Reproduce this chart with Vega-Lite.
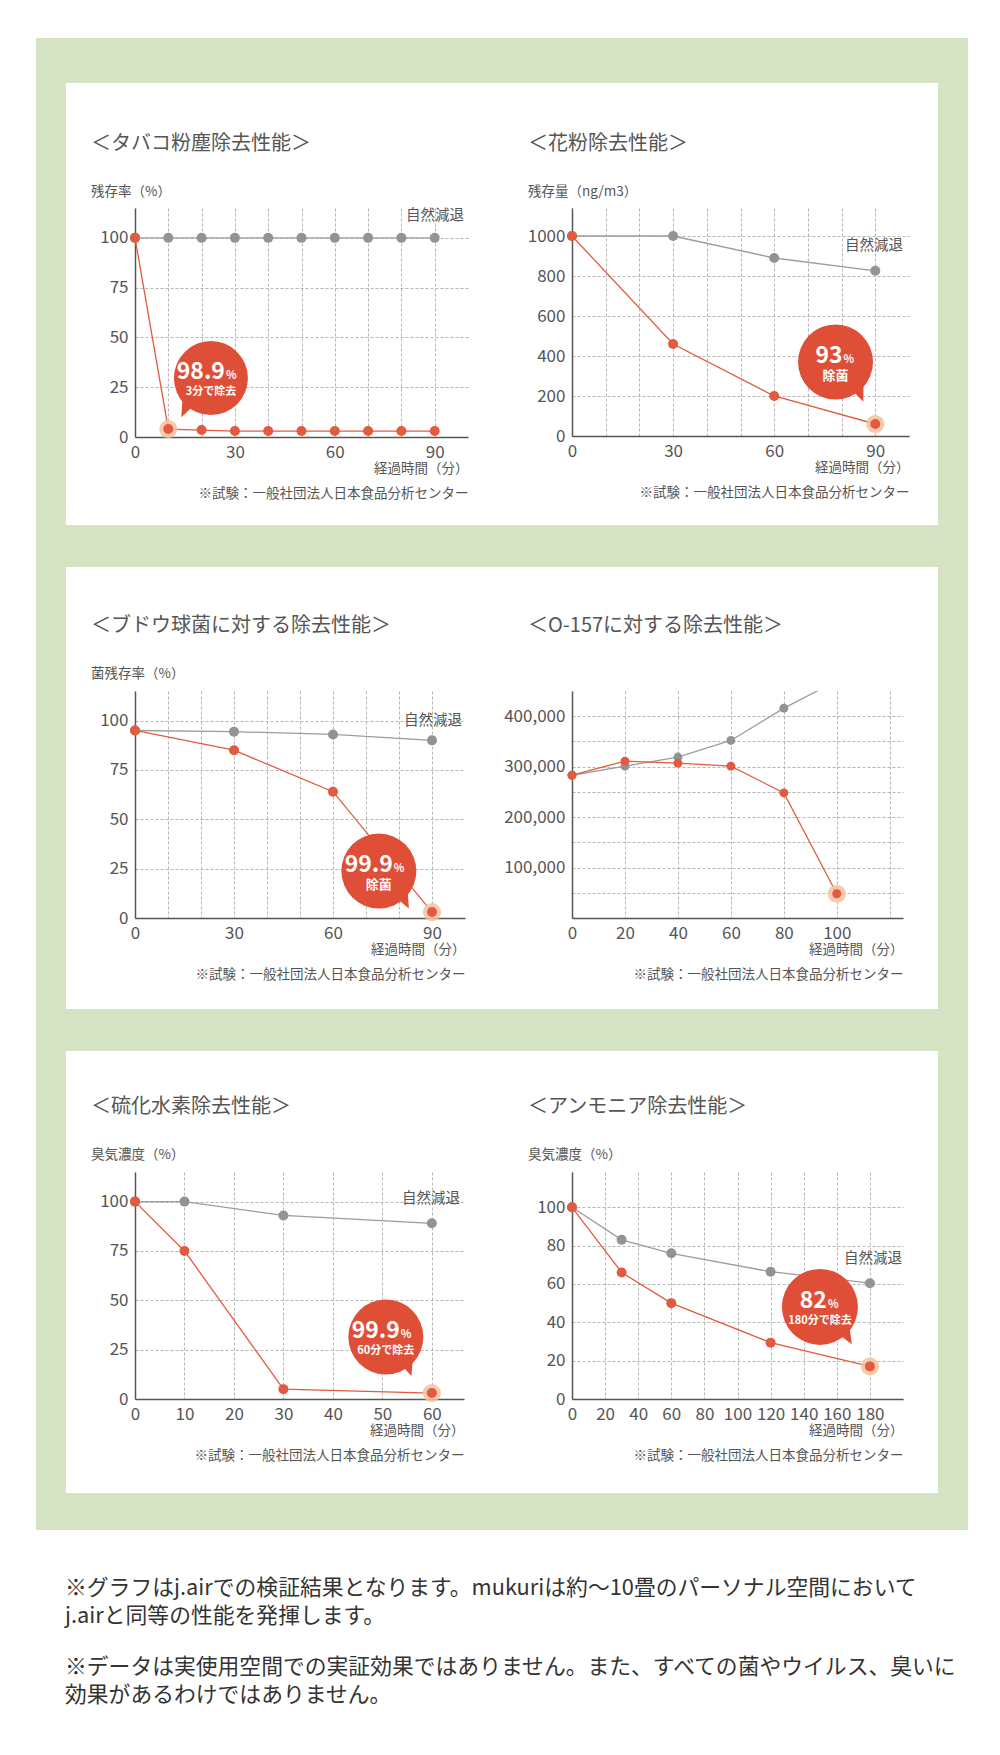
{
  "$schema": "https://vega.github.io/schema/vega-lite/v6.json",
  "background": "white",
  "autosize": {"type": "pad"},
  "padding": {"left": 35, "top": 37, "right": 33, "bottom": 41},
  "title": {
    "text": ["※グラフはj.airでの検証結果となります。mukuriは約〜10畳のパーソナル空間において", "j.airと同等の性能を発揮します。"],
    "subtitle": ["※データは実使用空間での実証効果ではありません。また、すべての菌やウイルス、臭いに", "効果があるわけではありません。"],
    "orient": "bottom", "anchor": "start", "frame": "bounds", "baseline": "top",
    "dx": 29, "offset": 48, "fontSize": 21.8, "fontWeight": "normal", "color": "#333", "lineHeight": 28,
    "subtitleFontSize": 21.8, "subtitleFontWeight": "normal", "subtitleColor": "#333", "subtitleLineHeight": 28, "subtitlePadding": 29
  },
  "datasets": {
    "c1": [
      {"t": 0, "v": 100, "series": "自然減退"}, {"t": 10, "v": 100, "series": "自然減退"}, {"t": 20, "v": 100, "series": "自然減退"}, {"t": 30, "v": 100, "series": "自然減退"}, {"t": 40, "v": 100, "series": "自然減退"}, {"t": 50, "v": 100, "series": "自然減退"}, {"t": 60, "v": 100, "series": "自然減退"}, {"t": 70, "v": 100, "series": "自然減退"}, {"t": 80, "v": 100, "series": "自然減退"}, {"t": 90, "v": 100, "series": "自然減退"},
      {"t": 0, "v": 100, "series": "除去"}, {"t": 10, "v": 4, "series": "除去"}, {"t": 20, "v": 3.5, "series": "除去"}, {"t": 30, "v": 3, "series": "除去"}, {"t": 40, "v": 3, "series": "除去"}, {"t": 50, "v": 3, "series": "除去"}, {"t": 60, "v": 3, "series": "除去"}, {"t": 70, "v": 3, "series": "除去"}, {"t": 80, "v": 3, "series": "除去"}, {"t": 90, "v": 3, "series": "除去"}
    ],
    "c2": [
      {"t": 0, "v": 1000, "series": "自然減退"}, {"t": 30, "v": 1000, "series": "自然減退"}, {"t": 60, "v": 890, "series": "自然減退"}, {"t": 90, "v": 826, "series": "自然減退"},
      {"t": 0, "v": 1000, "series": "除去"}, {"t": 30, "v": 460, "series": "除去"}, {"t": 60, "v": 200, "series": "除去"}, {"t": 90, "v": 60, "series": "除去"}
    ],
    "c3": [
      {"t": 0, "v": 95, "series": "自然減退"}, {"t": 30, "v": 94.4, "series": "自然減退"}, {"t": 60, "v": 93, "series": "自然減退"}, {"t": 90, "v": 90, "series": "自然減退"},
      {"t": 0, "v": 95, "series": "除去"}, {"t": 30, "v": 85, "series": "除去"}, {"t": 60, "v": 64, "series": "除去"}, {"t": 90, "v": 3, "series": "除去"}
    ],
    "c4": [
      {"t": 0, "v": 283000, "series": "自然減退"}, {"t": 20, "v": 301000, "series": "自然減退"}, {"t": 40, "v": 319000, "series": "自然減退"}, {"t": 60, "v": 352000, "series": "自然減退"}, {"t": 80, "v": 416000, "series": "自然減退"}, {"t": 100, "v": 470000, "series": "自然減退"},
      {"t": 0, "v": 283000, "series": "除去"}, {"t": 20, "v": 311000, "series": "除去"}, {"t": 40, "v": 307000, "series": "除去"}, {"t": 60, "v": 301000, "series": "除去"}, {"t": 80, "v": 248000, "series": "除去"}, {"t": 100, "v": 48000, "series": "除去"}
    ],
    "c5": [
      {"t": 0, "v": 100, "series": "自然減退"}, {"t": 10, "v": 100, "series": "自然減退"}, {"t": 30, "v": 93, "series": "自然減退"}, {"t": 60, "v": 89, "series": "自然減退"},
      {"t": 0, "v": 100, "series": "除去"}, {"t": 10, "v": 75, "series": "除去"}, {"t": 30, "v": 5, "series": "除去"}, {"t": 60, "v": 3, "series": "除去"}
    ],
    "c6": [
      {"t": 0, "v": 100, "series": "自然減退"}, {"t": 30, "v": 83, "series": "自然減退"}, {"t": 60, "v": 76, "series": "自然減退"}, {"t": 120, "v": 66.4, "series": "自然減退"}, {"t": 180, "v": 60.4, "series": "自然減退"},
      {"t": 0, "v": 100, "series": "除去"}, {"t": 30, "v": 66, "series": "除去"}, {"t": 60, "v": 50, "series": "除去"}, {"t": 120, "v": 29.4, "series": "除去"}, {"t": 180, "v": 17, "series": "除去"}
    ]
  },
  "concat": [
    {
      "width": 333, "height": 229,
      "title": {"text": "＜タバコ粉塵除去性能＞", "subtitle": "残存率（%）", "offset": -160},
      "layer": [
        {"data": {"name": "c1"}, "mark": {"type": "line", "strokeWidth": 1.3},
         "encoding": {
           "x": {"field": "t", "type": "quantitative", "scale": {"domain": [0, 100], "nice": false, "zero": false}, "axis": {"grid": true, "tickCount": 50, "values": [0, 10, 20, 30, 40, 50, 60, 70, 80, 90], "labelExpr": "datum.value % 30 === 0 ? datum.label : ''", "title": ["経過時間（分）", "※試験：一般社団法人日本食品分析センター"]}},
           "y": {"field": "v", "type": "quantitative", "scale": {"domain": [0, 115], "nice": false}, "axis": {"grid": true, "tickCount": 50, "values": [0, 25, 50, 75, 100], "title": null}},
           "stroke": {"field": "series", "type": "nominal", "scale": {"domain": ["自然減退", "除去"], "range": ["#9c9c9c", "#e25a3f"]}, "legend": null}}},
        {"data": {"values": [{}]}, "mark": {"type": "rect", "color": "#d6e3c3", "clip": false}, "encoding": {"x": {"datum": -29.73, "type": "quantitative"}, "x2": {"datum": -20.72}, "y": {"datum": 200.37, "type": "quantitative"}, "y2": {"datum": -56.24}}},
        {"data": {"values": [{}]}, "mark": {"type": "rect", "color": "#d6e3c3", "clip": false}, "encoding": {"x": {"datum": -29.73, "type": "quantitative"}, "x2": {"datum": 111.11}, "y": {"datum": 200.37, "type": "quantitative"}, "y2": {"datum": 177.77}}},
        {"data": {"values": [{}]}, "mark": {"type": "rect", "color": "#d6e3c3", "clip": false}, "encoding": {"x": {"datum": -29.73, "type": "quantitative"}, "x2": {"datum": 111.11}, "y": {"datum": -44.19, "type": "quantitative"}, "y2": {"datum": -56.24}}},
        {"data": {"name": "c1"}, "transform": [{"filter": "datum.t == 10 && datum.series == '除去'"}], "mark": {"type": "point", "filled": true, "size": 330, "color": "#f3c2a0", "opacity": 0.85}, "encoding": {"x": {"field": "t", "type": "quantitative"}, "y": {"field": "v", "type": "quantitative"}}},
        {"data": {"name": "c1"}, "mark": {"type": "point", "filled": true, "size": 100, "opacity": 1}, "encoding": {"x": {"field": "t", "type": "quantitative"}, "y": {"field": "v", "type": "quantitative"}, "fill": {"field": "series", "type": "nominal", "scale": {"domain": ["自然減退", "除去"], "range": ["#8f9692", "#e25a3f"]}, "legend": null}}},
        {"data": {"values": [{}]},
         "encoding": {"x": {"datum": 22.8, "type": "quantitative"}, "y": {"datum": 29.6, "type": "quantitative"}},
         "layer": [
           {"mark": {"type": "point", "shape": "M-0.2,0.5L-0.8,1.06L-0.75,0.3Z", "filled": true, "size": 5476, "color": "#df4e36", "opacity": 1, "clip": false}},
           {"mark": {"type": "point", "shape": "circle", "filled": true, "size": 5476, "color": "#df4e36", "opacity": 1, "clip": false}},
           {"mark": {"type": "text", "align": "right", "baseline": "middle", "dx": 14, "dy": -6, "fontSize": 23, "fontWeight": "bold", "color": "white"}, "encoding": {"text": {"value": "98.9"}}},
           {"mark": {"type": "text", "align": "left", "baseline": "middle", "dx": 15, "dy": -2, "fontSize": 11, "fontWeight": "bold", "color": "white"}, "encoding": {"text": {"value": "%"}}},
           {"mark": {"type": "text", "align": "center", "baseline": "middle", "dy": 14, "fontSize": 11, "fontWeight": "bold", "color": "white"}, "encoding": {"text": {"value": "3分で除去"}}}
         ]},
        {"data": {"values": [{}]}, "mark": {"type": "text", "align": "right", "baseline": "middle", "fontSize": 14.5, "color": "#555"}, "encoding": {"x": {"datum": 98.8, "type": "quantitative"}, "y": {"datum": 111, "type": "quantitative"}, "text": {"value": "自然減退"}}}
      ]
    },
    {
      "width": 337, "height": 228,
      "title": {"text": "＜花粉除去性能＞", "subtitle": "残存量（ng/m3）", "offset": -160},
      "layer": [
        {"data": {"name": "c2"}, "mark": {"type": "line", "strokeWidth": 1.3},
         "encoding": {
           "x": {"field": "t", "type": "quantitative", "scale": {"domain": [0, 100], "nice": false, "zero": false}, "axis": {"grid": true, "tickCount": 50, "values": [0, 10, 20, 30, 40, 50, 60, 70, 80, 90], "labelExpr": "datum.value % 30 === 0 ? datum.label : ''", "title": ["経過時間（分）", "※試験：一般社団法人日本食品分析センター"]}},
           "y": {"field": "v", "type": "quantitative", "scale": {"domain": [0, 1140], "nice": false}, "axis": {"grid": true, "tickCount": 50, "format": "d", "values": [0, 200, 400, 600, 800, 1000], "title": null}},
           "stroke": {"field": "series", "type": "nominal", "scale": {"domain": ["自然減退", "除去"], "range": ["#9c9c9c", "#e25a3f"]}, "legend": null}}},
        {"data": {"values": [{}]}, "mark": {"type": "rect", "color": "#d6e3c3", "clip": false}, "encoding": {"x": {"datum": -21.66, "type": "quantitative"}, "x2": {"datum": 117.51}, "y": {"datum": 1990, "type": "quantitative"}, "y2": {"datum": 1765}}},
        {"data": {"values": [{}]}, "mark": {"type": "rect", "color": "#d6e3c3", "clip": false}, "encoding": {"x": {"datum": 108.61, "type": "quantitative"}, "x2": {"datum": 117.51}, "y": {"datum": 1990, "type": "quantitative"}, "y2": {"datum": -565}}},
        {"data": {"values": [{}]}, "mark": {"type": "rect", "color": "#d6e3c3", "clip": false}, "encoding": {"x": {"datum": -21.66, "type": "quantitative"}, "x2": {"datum": 117.51}, "y": {"datum": -445, "type": "quantitative"}, "y2": {"datum": -565}}},
        {"data": {"name": "c2"}, "transform": [{"filter": "datum.t == 90 && datum.series == '除去'"}], "mark": {"type": "point", "filled": true, "size": 330, "color": "#f3c2a0", "opacity": 0.85}, "encoding": {"x": {"field": "t", "type": "quantitative"}, "y": {"field": "v", "type": "quantitative"}}},
        {"data": {"name": "c2"}, "mark": {"type": "point", "filled": true, "size": 100, "opacity": 1}, "encoding": {"x": {"field": "t", "type": "quantitative"}, "y": {"field": "v", "type": "quantitative"}, "fill": {"field": "series", "type": "nominal", "scale": {"domain": ["自然減退", "除去"], "range": ["#8f9692", "#e25a3f"]}, "legend": null}}},
        {"data": {"values": [{}]},
         "encoding": {"x": {"datum": 78.2, "type": "quantitative"}, "y": {"datum": 370, "type": "quantitative"}},
         "layer": [
           {"mark": {"type": "point", "shape": "M0.2,0.5L0.74,1.06L0.75,0.3Z", "filled": true, "size": 5625, "color": "#df4e36", "opacity": 1, "clip": false}},
           {"mark": {"type": "point", "shape": "circle", "filled": true, "size": 5625, "color": "#df4e36", "opacity": 1, "clip": false}},
           {"mark": {"type": "text", "align": "right", "baseline": "middle", "dx": 7, "dy": -6, "fontSize": 23, "fontWeight": "bold", "color": "white"}, "encoding": {"text": {"value": "93"}}},
           {"mark": {"type": "text", "align": "left", "baseline": "middle", "dx": 8, "dy": -2, "fontSize": 11, "fontWeight": "bold", "color": "white"}, "encoding": {"text": {"value": "%"}}},
           {"mark": {"type": "text", "align": "center", "baseline": "middle", "dy": 14, "fontSize": 13, "fontWeight": "bold", "color": "white"}, "encoding": {"text": {"value": "除菌"}}}
         ]},
        {"data": {"values": [{}]}, "mark": {"type": "text", "align": "right", "baseline": "middle", "fontSize": 14.5, "color": "#555"}, "encoding": {"x": {"datum": 98.2, "type": "quantitative"}, "y": {"datum": 950, "type": "quantitative"}, "text": {"value": "自然減退"}}}
      ]
    },
    {
      "width": 330, "height": 227,
      "title": {"text": "＜ブドウ球菌に対する除去性能＞", "subtitle": "菌残存率（%）", "offset": -138},
      "layer": [
        {"data": {"name": "c3"}, "mark": {"type": "line", "strokeWidth": 1.3},
         "encoding": {
           "x": {"field": "t", "type": "quantitative", "scale": {"domain": [0, 100], "nice": false, "zero": false}, "axis": {"grid": true, "tickCount": 50, "values": [0, 10, 20, 30, 40, 50, 60, 70, 80, 90], "labelExpr": "datum.value % 30 === 0 ? datum.label : ''", "title": ["経過時間（分）", "※試験：一般社団法人日本食品分析センター"]}},
           "y": {"field": "v", "type": "quantitative", "scale": {"domain": [0, 115], "nice": false}, "axis": {"grid": true, "tickCount": 50, "values": [0, 25, 50, 75, 100], "title": null}},
           "stroke": {"field": "series", "type": "nominal", "scale": {"domain": ["自然減退", "除去"], "range": ["#9c9c9c", "#e25a3f"]}, "legend": null}}},
        {"data": {"values": [{}]}, "mark": {"type": "rect", "color": "#d6e3c3", "clip": false}, "encoding": {"x": {"datum": -30.0, "type": "quantitative"}, "x2": {"datum": -20.91}, "y": {"datum": 189.98, "type": "quantitative"}, "y2": {"datum": -58.26}}},
        {"data": {"values": [{}]}, "mark": {"type": "rect", "color": "#d6e3c3", "clip": false}, "encoding": {"x": {"datum": -30.0, "type": "quantitative"}, "x2": {"datum": 112.12}, "y": {"datum": 189.98, "type": "quantitative"}, "y2": {"datum": 177.82}}},
        {"data": {"values": [{}]}, "mark": {"type": "rect", "color": "#d6e3c3", "clip": false}, "encoding": {"x": {"datum": -30.0, "type": "quantitative"}, "x2": {"datum": 112.12}, "y": {"datum": -46.10, "type": "quantitative"}, "y2": {"datum": -58.26}}},
        {"data": {"name": "c3"}, "transform": [{"filter": "datum.t == 90 && datum.series == '除去'"}], "mark": {"type": "point", "filled": true, "size": 330, "color": "#f3c2a0", "opacity": 0.85}, "encoding": {"x": {"field": "t", "type": "quantitative"}, "y": {"field": "v", "type": "quantitative"}}},
        {"data": {"name": "c3"}, "mark": {"type": "point", "filled": true, "size": 100, "opacity": 1}, "encoding": {"x": {"field": "t", "type": "quantitative"}, "y": {"field": "v", "type": "quantitative"}, "fill": {"field": "series", "type": "nominal", "scale": {"domain": ["自然減退", "除去"], "range": ["#8f9692", "#e25a3f"]}, "legend": null}}},
        {"data": {"values": [{}]},
         "encoding": {"x": {"datum": 73.9, "type": "quantitative"}, "y": {"datum": 23.8, "type": "quantitative"}},
         "layer": [
           {"mark": {"type": "point", "shape": "M0.2,0.5L0.8,1.0L0.75,0.3Z", "filled": true, "size": 5625, "color": "#df4e36", "opacity": 1, "clip": false}},
           {"mark": {"type": "point", "shape": "circle", "filled": true, "size": 5625, "color": "#df4e36", "opacity": 1, "clip": false}},
           {"mark": {"type": "text", "align": "right", "baseline": "middle", "dx": 14, "dy": -6, "fontSize": 23, "fontWeight": "bold", "color": "white"}, "encoding": {"text": {"value": "99.9"}}},
           {"mark": {"type": "text", "align": "left", "baseline": "middle", "dx": 15, "dy": -2, "fontSize": 11, "fontWeight": "bold", "color": "white"}, "encoding": {"text": {"value": "%"}}},
           {"mark": {"type": "text", "align": "center", "baseline": "middle", "dy": 14, "fontSize": 13, "fontWeight": "bold", "color": "white"}, "encoding": {"text": {"value": "除菌"}}}
         ]},
        {"data": {"values": [{}]}, "mark": {"type": "text", "align": "right", "baseline": "middle", "fontSize": 14.5, "color": "#555"}, "encoding": {"x": {"datum": 99.1, "type": "quantitative"}, "y": {"datum": 99.8, "type": "quantitative"}, "text": {"value": "自然減退"}}}
      ]
    },
    {
      "width": 331, "height": 227,
      "title": {"text": "＜O-157に対する除去性能＞", "subtitle": " ", "offset": -138},
      "layer": [
        {"data": {"name": "c4"}, "mark": {"type": "line", "strokeWidth": 1.3, "clip": true},
         "encoding": {
           "x": {"field": "t", "type": "quantitative", "scale": {"domain": [0, 125], "nice": false, "zero": false}, "axis": {"grid": true, "tickCount": 50, "values": [0, 20, 40, 60, 80, 100, 120], "labelExpr": "datum.value <= 100 ? datum.label : ''", "title": ["経過時間（分）", "※試験：一般社団法人日本食品分析センター"]}},
           "y": {"field": "v", "type": "quantitative", "scale": {"domain": [0, 450000], "nice": false}, "axis": {"grid": true, "tickCount": 50, "values": [50000, 100000, 150000, 200000, 250000, 300000, 350000, 400000], "format": ",d", "labelExpr": "datum.value % 100000 === 0 ? datum.label : ''", "title": null}},
           "stroke": {"field": "series", "type": "nominal", "scale": {"domain": ["自然減退", "除去"], "range": ["#b4b4b4", "#e25a3f"]}, "legend": null}}},
        {"data": {"values": [{}]}, "mark": {"type": "rect", "color": "#d6e3c3", "clip": false}, "encoding": {"x": {"datum": -27.57, "type": "quantitative"}, "x2": {"datum": 149.55}, "y": {"datum": 743393, "type": "quantitative"}, "y2": {"datum": 695815}}},
        {"data": {"values": [{}]}, "mark": {"type": "rect", "color": "#d6e3c3", "clip": false}, "encoding": {"x": {"datum": 138.22, "type": "quantitative"}, "x2": {"datum": 149.55}, "y": {"datum": 743393, "type": "quantitative"}, "y2": {"datum": -227974}}},
        {"data": {"values": [{}]}, "mark": {"type": "rect", "color": "#d6e3c3", "clip": false}, "encoding": {"x": {"datum": -27.57, "type": "quantitative"}, "x2": {"datum": 149.55}, "y": {"datum": -180397, "type": "quantitative"}, "y2": {"datum": -227974}}},
        {"data": {"name": "c4"}, "transform": [{"filter": "datum.t == 100 && datum.series == '除去'"}], "mark": {"type": "point", "filled": true, "size": 330, "color": "#f3c2a0", "opacity": 0.85}, "encoding": {"x": {"field": "t", "type": "quantitative"}, "y": {"field": "v", "type": "quantitative"}}},
        {"data": {"name": "c4"}, "transform": [{"filter": "datum.v <= 450000"}], "mark": {"type": "point", "filled": true, "size": 80, "opacity": 1}, "encoding": {"x": {"field": "t", "type": "quantitative"}, "y": {"field": "v", "type": "quantitative"}, "fill": {"field": "series", "type": "nominal", "scale": {"domain": ["自然減退", "除去"], "range": ["#b7bfc4", "#e25a3f"]}, "legend": null}}}
      ]
    },
    {
      "width": 329, "height": 227,
      "title": {"text": "＜硫化水素除去性能＞", "subtitle": "臭気濃度（%）", "offset": -135},
      "layer": [
        {"data": {"name": "c5"}, "mark": {"type": "line", "strokeWidth": 1.3},
         "encoding": {
           "x": {"field": "t", "type": "quantitative", "scale": {"domain": [0, 66.5], "nice": false, "zero": false}, "axis": {"grid": true, "tickCount": 50, "values": [0, 10, 20, 30, 40, 50, 60], "title": ["経過時間（分）", "※試験：一般社団法人日本食品分析センター"]}},
           "y": {"field": "v", "type": "quantitative", "scale": {"domain": [0, 115], "nice": false}, "axis": {"grid": true, "tickCount": 50, "values": [0, 25, 50, 75, 100], "title": null}},
           "stroke": {"field": "series", "type": "nominal", "scale": {"domain": ["自然減退", "除去"], "range": ["#9c9c9c", "#e25a3f"]}, "legend": null}}},
        {"data": {"values": [{}]}, "mark": {"type": "rect", "color": "#d6e3c3", "clip": false}, "encoding": {"x": {"datum": -20.01, "type": "quantitative"}, "x2": {"datum": -13.95}, "y": {"datum": 188.46, "type": "quantitative"}, "y2": {"datum": -66.37}}},
        {"data": {"values": [{}]}, "mark": {"type": "rect", "color": "#d6e3c3", "clip": false}, "encoding": {"x": {"datum": -20.01, "type": "quantitative"}, "x2": {"datum": 74.79}, "y": {"datum": 188.46, "type": "quantitative"}, "y2": {"datum": 176.30}}},
        {"data": {"values": [{}]}, "mark": {"type": "rect", "color": "#d6e3c3", "clip": false}, "encoding": {"x": {"datum": -20.01, "type": "quantitative"}, "x2": {"datum": 74.79}, "y": {"datum": -47.62, "type": "quantitative"}, "y2": {"datum": -66.37}}},
        {"data": {"name": "c5"}, "transform": [{"filter": "datum.t == 60 && datum.series == '除去'"}], "mark": {"type": "point", "filled": true, "size": 330, "color": "#f3c2a0", "opacity": 0.85}, "encoding": {"x": {"field": "t", "type": "quantitative"}, "y": {"field": "v", "type": "quantitative"}}},
        {"data": {"name": "c5"}, "mark": {"type": "point", "filled": true, "size": 100, "opacity": 1}, "encoding": {"x": {"field": "t", "type": "quantitative"}, "y": {"field": "v", "type": "quantitative"}, "fill": {"field": "series", "type": "nominal", "scale": {"domain": ["自然減退", "除去"], "range": ["#8f9692", "#e25a3f"]}, "legend": null}}},
        {"data": {"values": [{}]},
         "encoding": {"x": {"datum": 50.7, "type": "quantitative"}, "y": {"datum": 31.4, "type": "quantitative"}},
         "layer": [
           {"mark": {"type": "point", "shape": "M0.2,0.5L0.68,1.04L0.75,0.3Z", "filled": true, "size": 5625, "color": "#df4e36", "opacity": 1, "clip": false}},
           {"mark": {"type": "point", "shape": "circle", "filled": true, "size": 5625, "color": "#df4e36", "opacity": 1, "clip": false}},
           {"mark": {"type": "text", "align": "right", "baseline": "middle", "dx": 14, "dy": -6, "fontSize": 23, "fontWeight": "bold", "color": "white"}, "encoding": {"text": {"value": "99.9"}}},
           {"mark": {"type": "text", "align": "left", "baseline": "middle", "dx": 15, "dy": -2, "fontSize": 11, "fontWeight": "bold", "color": "white"}, "encoding": {"text": {"value": "%"}}},
           {"mark": {"type": "text", "align": "center", "baseline": "middle", "dy": 14, "fontSize": 11, "fontWeight": "bold", "color": "white"}, "encoding": {"text": {"value": "60分で除去"}}}
         ]},
        {"data": {"values": [{}]}, "mark": {"type": "text", "align": "right", "baseline": "middle", "fontSize": 14.5, "color": "#555"}, "encoding": {"x": {"datum": 65.7, "type": "quantitative"}, "y": {"datum": 101.3, "type": "quantitative"}, "text": {"value": "自然減退"}}}
      ]
    },
    {
      "width": 331, "height": 227,
      "title": {"text": "＜アンモニア除去性能＞", "subtitle": "臭気濃度（%）", "offset": -135},
      "layer": [
        {"data": {"name": "c6"}, "mark": {"type": "line", "strokeWidth": 1.3},
         "encoding": {
           "x": {"field": "t", "type": "quantitative", "scale": {"domain": [0, 200], "nice": false, "zero": false}, "axis": {"grid": true, "tickCount": 50, "values": [0, 20, 40, 60, 80, 100, 120, 140, 160, 180], "title": ["経過時間（分）", "※試験：一般社団法人日本食品分析センター"]}},
           "y": {"field": "v", "type": "quantitative", "scale": {"domain": [0, 118.4], "nice": false}, "axis": {"grid": true, "tickCount": 50, "values": [0, 20, 40, 60, 80, 100], "title": null}},
           "stroke": {"field": "series", "type": "nominal", "scale": {"domain": ["自然減退", "除去"], "range": ["#9c9c9c", "#e25a3f"]}, "legend": null}}},
        {"data": {"values": [{}]}, "mark": {"type": "rect", "color": "#d6e3c3", "clip": false}, "encoding": {"x": {"datum": -44.11, "type": "quantitative"}, "x2": {"datum": 239.28}, "y": {"datum": 194.03, "type": "quantitative"}, "y2": {"datum": 181.51}}},
        {"data": {"values": [{}]}, "mark": {"type": "rect", "color": "#d6e3c3", "clip": false}, "encoding": {"x": {"datum": 221.15, "type": "quantitative"}, "x2": {"datum": 239.28}, "y": {"datum": 194.03, "type": "quantitative"}, "y2": {"datum": -68.33}}},
        {"data": {"values": [{}]}, "mark": {"type": "rect", "color": "#d6e3c3", "clip": false}, "encoding": {"x": {"datum": -44.11, "type": "quantitative"}, "x2": {"datum": 239.28}, "y": {"datum": -49.03, "type": "quantitative"}, "y2": {"datum": -68.33}}},
        {"data": {"name": "c6"}, "transform": [{"filter": "datum.t == 180 && datum.series == '除去'"}], "mark": {"type": "point", "filled": true, "size": 330, "color": "#f3c2a0", "opacity": 0.85}, "encoding": {"x": {"field": "t", "type": "quantitative"}, "y": {"field": "v", "type": "quantitative"}}},
        {"data": {"name": "c6"}, "mark": {"type": "point", "filled": true, "size": 100, "opacity": 1}, "encoding": {"x": {"field": "t", "type": "quantitative"}, "y": {"field": "v", "type": "quantitative"}, "fill": {"field": "series", "type": "nominal", "scale": {"domain": ["自然減退", "除去"], "range": ["#8f9692", "#e25a3f"]}, "legend": null}}},
        {"data": {"values": [{}]}, "mark": {"type": "text", "align": "right", "baseline": "middle", "fontSize": 14.5, "color": "#555"}, "encoding": {"x": {"datum": 199.4, "type": "quantitative"}, "y": {"datum": 73, "type": "quantitative"}, "text": {"value": "自然減退"}}},
        {"data": {"values": [{}]},
         "encoding": {"x": {"datum": 149.8, "type": "quantitative"}, "y": {"datum": 48, "type": "quantitative"}},
         "layer": [
           {"mark": {"type": "point", "shape": "M0.2,0.5L0.84,0.98L0.75,0.3Z", "filled": true, "size": 5776, "color": "#df4e36", "opacity": 1, "clip": false}},
           {"mark": {"type": "point", "shape": "circle", "filled": true, "size": 5776, "color": "#df4e36", "opacity": 1, "clip": false}},
           {"mark": {"type": "text", "align": "right", "baseline": "middle", "dx": 7, "dy": -6, "fontSize": 23, "fontWeight": "bold", "color": "white"}, "encoding": {"text": {"value": "82"}}},
           {"mark": {"type": "text", "align": "left", "baseline": "middle", "dx": 8, "dy": -2, "fontSize": 11, "fontWeight": "bold", "color": "white"}, "encoding": {"text": {"value": "%"}}},
           {"mark": {"type": "text", "align": "center", "baseline": "middle", "dy": 14, "fontSize": 11, "fontWeight": "bold", "color": "white"}, "encoding": {"text": {"value": "180分で除去"}}}
         ]}
      ]
    }
  ],
  "columns": 2,
  "spacing": {"row": 254, "column": 104},
  "align": "each",
  "bounds": "flush",
  "config": {
    "font": "Noto Sans CJK JP",
    "view": {"stroke": null},
    "axis": {"domainColor": "#555", "domainWidth": 1.5, "ticks": false, "labelColor": "#555", "labelFontSize": 17, "labelPadding": 7, "labelFlush": false, "labelOverlap": false, "gridColor": "#a3a3a3", "gridDash": [3, 2], "gridWidth": 0.8, "titleColor": "#555", "titleFontSize": 13.5, "titleFontWeight": "normal"},
    "axisX": {"titleAnchor": "end", "titleAlign": "right", "titleBaseline": "top", "titleLineHeight": 25, "titleY": 24},
    "title": {"anchor": "start", "frame": "group", "fontSize": 20, "fontWeight": "normal", "color": "#555", "subtitleFontSize": 13.5, "subtitleColor": "#555", "subtitleFontWeight": "normal", "dx": -44, "subtitlePadding": 31}
  }
}
